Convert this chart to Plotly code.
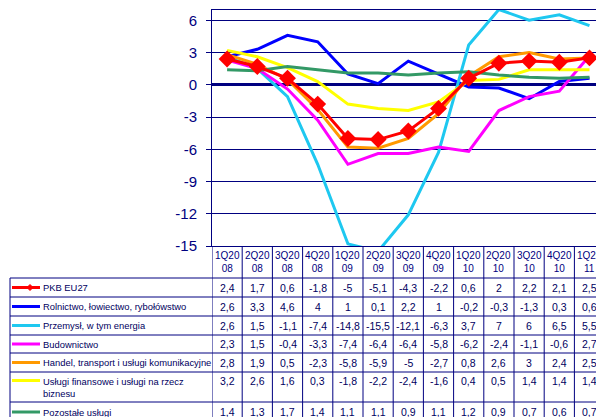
import plotly.graph_objects as go

W, H = 596, 417

quarters = ["1Q2008", "2Q2008", "3Q2008", "4Q2008", "1Q2009", "2Q2009", "3Q2009",
            "4Q2009", "1Q2010", "2Q2010", "3Q2010", "4Q2010", "1Q2011"]
header_labels = [q[:4] + "<br>" + q[-2:] for q in quarters]

series_names = [
    "PKB EU27",
    "Rolnictwo, łowiectwo, rybołówstwo",
    "Przemysł, w tym energia",
    "Budownictwo",
    "Handel, transport i usługi komunikacyjne",
    "Usługi finansowe i usługi na rzecz<br>biznesu",
    "Pozostałe usługi",
]
pkb = [2.4, 1.7, 0.6, -1.8, -5, -5.1, -4.3, -2.2, 0.6, 2, 2.2, 2.1, 2.5]
rolnictwo = [2.6, 3.3, 4.6, 4, 1, 0.1, 2.2, 1, -0.2, -0.3, -1.3, 0.3, 0.6]
przemysl = [2.6, 1.5, -1.1, -7.4, -14.8, -15.5, -12.1, -6.3, 3.7, 7, 6, 6.5, 5.5]
budownictwo = [2.3, 1.5, -0.4, -3.3, -7.4, -6.4, -6.4, -5.8, -6.2, -2.4, -1.1, -0.6, 2.7]
handel = [2.8, 1.9, 0.5, -2.3, -5.8, -5.9, -5, -2.7, 0.8, 2.6, 3, 2.4, 2.5]
finansowe = [3.2, 2.6, 1.6, 0.3, -1.8, -2.2, -2.4, -1.6, 0.4, 0.5, 1.4, 1.4, 1.4]
pozostale = [1.4, 1.3, 1.7, 1.4, 1.1, 1.1, 0.9, 1.1, 1.2, 0.9, 0.7, 0.6, 0.7]

all_values = [pkb, rolnictwo, przemysl, budownictwo, handel, finansowe, pozostale]
colors = ["#FF0000", "#0000FF", "#1EC8F0", "#FF00FF", "#FF9900", "#FFFF00", "#339966"]

y_ticks = [6, 3, 0, -3, -6, -9, -12, -15]
NAVY = "#000080"
TXT = "#000060"
FONT = "Liberation Sans, Arial, sans-serif"

def py(px):
    return 1 - px / H

x_idx = list(range(len(quarters)))

fig = go.Figure()
# draw other series first, PKB last (on top)
order = [1, 2, 3, 4, 5, 6, 0]
for i in order:
    kw = dict(mode="lines")
    if i == 0:
        kw = dict(mode="lines+markers",
                  marker=dict(symbol="diamond", size=13, color=colors[0]))
    fig.add_trace(go.Scatter(x=x_idx, y=all_values[i], name=series_names[i],
                             line=dict(color=colors[i], width=3), showlegend=False,
                             hoverinfo="skip", **kw))

col_w = 30.2
x_left_px = 212
x_range = [-0.5, -0.5 + (W - x_left_px) / col_w]

plot_top_px, plot_bot_px = 9.5, 246

fig.update_layout(
    width=W, height=H,
    margin=dict(l=0, r=0, t=0, b=0, pad=0),
    paper_bgcolor="white", plot_bgcolor="white",
    font=dict(family=FONT, color=TXT),
    xaxis=dict(domain=[x_left_px / W, 1], range=x_range, showgrid=False,
               showticklabels=False, zeroline=False, showline=True, mirror=True,
               linecolor=NAVY, linewidth=1, ticks="", automargin=False),
    yaxis=dict(domain=[py(plot_bot_px), py(plot_top_px)], range=[-15, 7],
               tickvals=y_ticks, ticktext=[str(t) for t in y_ticks],
               showgrid=True, gridcolor=NAVY, gridwidth=1,
               zeroline=True, zerolinecolor=NAVY, zerolinewidth=3,
               showline=True, linecolor=NAVY, linewidth=1,
               ticks="outside", ticklen=5, tickcolor=NAVY,
               ticklabelstandoff=6, automargin=False,
               tickfont=dict(size=15, color=NAVY, family=FONT)),
)

# ---- data table ----
row_lines_px = [278, 297, 316, 335, 353, 372, 402]
table_bottom_px = 425
shapes = []
for ypx in row_lines_px:
    shapes.append(dict(type="line", xref="paper", yref="paper", x0=10 / W, x1=1,
                       y0=py(ypx), y1=py(ypx), line=dict(color=NAVY, width=1)))
# left border of legend column
shapes.append(dict(type="line", xref="paper", yref="paper", x0=10 / W, x1=10 / W,
                   y0=py(278), y1=py(table_bottom_px), line=dict(color=NAVY, width=1)))
# column separators
for k in range(len(quarters) + 1):
    shapes.append(dict(type="line", xref="x", yref="paper", x0=k - 0.5, x1=k - 0.5,
                       y0=py(plot_bot_px), y1=py(table_bottom_px),
                       line=dict(color=NAVY, width=1)))

row_text_px = [287.5, 306.5, 325.5, 344, 362.5, 380.5, 412]

annotations = []
for q, lab in enumerate(header_labels):
    annotations.append(dict(xref="x", yref="paper", x=q, y=py(261.5), text=lab,
                            showarrow=False, font=dict(size=10, color=NAVY),
                            xanchor="center", yanchor="middle"))

def fmt(v):
    if float(v).is_integer():
        return str(int(v))
    return str(v).replace(".", ",")

for r, vals in enumerate(all_values):
    ypx = row_text_px[r]
    for q, v in enumerate(vals):
        annotations.append(dict(xref="x", yref="paper", x=q, y=py(ypx), text=fmt(v),
                                showarrow=False, font=dict(size=10.5, color=TXT),
                                xanchor="center", yanchor="middle"))
    # legend sample line
    shapes.append(dict(type="line", xref="paper", yref="paper", x0=12 / W, x1=40 / W,
                       y0=py(ypx), y1=py(ypx), line=dict(color=colors[r], width=3)))
    if r == 0:
        d = 3
        cx = 30
        path = (f"M {cx / W},{py(ypx - d)} L {(cx + d) / W},{py(ypx)} "
                f"L {cx / W},{py(ypx + d)} L {(cx - d) / W},{py(ypx)} Z")
        shapes.append(dict(type="path", xref="paper", yref="paper", path=path,
                           fillcolor=colors[0], line=dict(color=colors[0], width=1)))
    label_y = ypx if r != 5 else ypx + 7
    annotations.append(dict(xref="paper", yref="paper", x=41 / W, y=py(label_y),
                            text=series_names[r], showarrow=False, align="left",
                            font=dict(size=9.4, color=TXT),
                            xanchor="left", yanchor="middle"))

fig.update_layout(shapes=shapes, annotations=annotations)
fig.write_html("out.html", config={"displayModeBar": False},
               post_script="document.body.style.margin='0';document.body.style.overflow='hidden';")
